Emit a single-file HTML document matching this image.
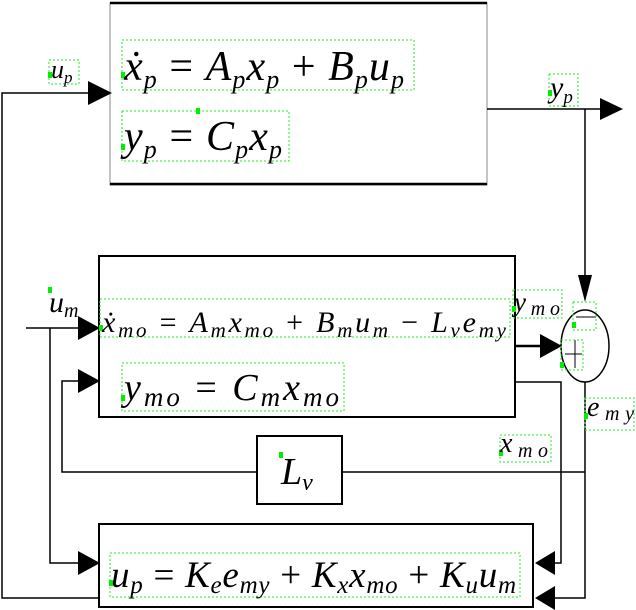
<!DOCTYPE html>
<html><head><meta charset="utf-8"><style>
body{margin:0;background:#fff;}
svg{display:block;}
text{font-family:"Liberation Serif",serif;font-style:italic;fill:#000;}
.g{fill:none;stroke:#2e2;stroke-width:1;stroke-dasharray:2,2;}
.m{fill:#0e0;}
</style></head><body>
<svg width="636" height="610" viewBox="0 0 636 610" xmlns="http://www.w3.org/2000/svg">
<g stroke="#000" fill="none" stroke-width="1.5">
<rect x="110" y="3" width="377" height="182" stroke="#888" stroke-width="1"/>
<line x1="110" y1="3" x2="487" y2="3" stroke-width="2.5"/>
<line x1="110" y1="184" x2="487" y2="184" stroke-width="2.5"/>
<rect x="99" y="256" width="416" height="161" stroke-width="2"/>
<rect x="257" y="436" width="85" height="68" stroke-width="2"/>
<rect x="99" y="524" width="434" height="83" stroke-width="2"/>
<ellipse cx="585" cy="346" rx="24" ry="36"/>
<line x1="565" y1="354" x2="582" y2="354" stroke-width="1"/>
<line x1="575" y1="340" x2="575" y2="368" stroke-width="1"/>
<line x1="576" y1="317" x2="596" y2="317" stroke-width="1"/>
<polyline points="98,598 2,598 2,93 92,93"/>
<polyline points="487,109 600,109"/>
<polyline points="585,109 585,282"/>
<polyline points="26,328 80,328"/>
<polyline points="50,328 50,563 80,563"/>
<polyline points="80,381 62,381 62,472 257,472"/>
<polyline points="342,472 585,472"/>
<polyline points="515,346 545,346" stroke-width="2.5"/>
<polyline points="515,382 561,382 561,563 552,563"/>
<polyline points="585,382 585,598 552,598"/>
</g>
<g fill="#000">
<polygon points="88,81 112,93 88,105"/>
<polygon points="600,98 623,109 600,120"/>
<polygon points="578,275 592,275 585,302"/>
<polygon points="78,316 100,328 78,340"/>
<polygon points="78,369 100,381 78,393"/>
<polygon points="78,551 100,563 78,575"/>
<polygon points="540,334 562,346 540,358"/>
<polygon points="555,551 535,563 555,575"/>
<polygon points="555,586 535,598 555,610"/>
</g>
<g class="g">
<rect x="122" y="40" width="292" height="50"/>
<rect x="122" y="111" width="167" height="50"/>
<rect x="49" y="60" width="30" height="24"/>
<rect x="549" y="74" width="29" height="32"/>
<rect x="100" y="299" width="410" height="38"/>
<rect x="122" y="363" width="222" height="48"/>
<rect x="513" y="290" width="49" height="28"/>
<rect x="573" y="302" width="23" height="28"/>
<rect x="561" y="340" width="22" height="30"/>
<rect x="585" y="398" width="49" height="32"/>
<rect x="500" y="435" width="51" height="27"/>
<rect x="110" y="553" width="410" height="44"/>
</g>
<g class="m">
<rect x="121" y="72" width="4" height="6"/><rect x="121" y="144" width="4" height="6"/>
<rect x="196" y="108" width="4" height="6"/><rect x="48" y="72" width="4" height="6"/>
<rect x="548" y="90" width="4" height="6"/><rect x="99" y="325" width="4" height="6"/>
<rect x="121" y="395" width="4" height="6"/><rect x="512" y="306" width="4" height="6"/>
<rect x="572" y="322" width="4" height="6"/><rect x="560" y="362" width="4" height="6"/>
<rect x="584" y="413" width="4" height="6"/><rect x="499" y="450" width="4" height="6"/>
<rect x="279" y="452" width="4" height="6"/><rect x="109" y="580" width="4" height="6"/>
<rect x="48" y="287" width="4" height="6"/>
</g>
<text x="124" y="80" font-size="42" textLength="280" lengthAdjust="spacing">ẋ<tspan font-size="26" dy="8">p</tspan><tspan dy="-8" font-style="normal"> = </tspan>A<tspan font-size="26" dy="8">p</tspan><tspan dy="-8">x</tspan><tspan font-size="26" dy="8">p</tspan><tspan dy="-8" font-style="normal"> + </tspan>B<tspan font-size="26" dy="8">p</tspan><tspan dy="-8">u</tspan><tspan font-size="26" dy="8">p</tspan></text>
<text x="124" y="150" font-size="42" textLength="158" lengthAdjust="spacing">y<tspan font-size="26" dy="8">p</tspan><tspan dy="-8" font-style="normal"> = </tspan>C<tspan font-size="26" dy="8">p</tspan><tspan dy="-8">x</tspan><tspan font-size="26" dy="8">p</tspan></text>
<text x="51" y="78" font-size="26">u<tspan font-size="17" dy="5">p</tspan></text>
<text x="550" y="97" font-size="30">y<tspan font-size="19" dy="6">p</tspan></text>
<text x="49" y="312" font-size="30">u<tspan font-size="20" dy="5">m</tspan></text>
<text x="102" y="332" font-size="30" textLength="404" lengthAdjust="spacing">ẋ<tspan font-size="21" dy="5">mo</tspan><tspan dy="-5" font-style="normal"> = </tspan>A<tspan font-size="21" dy="5">m</tspan><tspan dy="-5">x</tspan><tspan font-size="21" dy="5">mo</tspan><tspan dy="-5" font-style="normal"> + </tspan>B<tspan font-size="21" dy="5">m</tspan><tspan dy="-5">u</tspan><tspan font-size="21" dy="5">m</tspan><tspan dy="-5" font-style="normal"> − </tspan>L<tspan font-size="21" dy="5">v</tspan><tspan dy="-5">e</tspan><tspan font-size="21" dy="5">my</tspan></text>
<text x="124" y="400" font-size="38" textLength="215" lengthAdjust="spacing">y<tspan font-size="27" dy="6">mo</tspan><tspan dy="-6" font-style="normal"> = </tspan>C<tspan font-size="27" dy="6">m</tspan><tspan dy="-6">x</tspan><tspan font-size="27" dy="6">mo</tspan></text>
<text x="514" y="311" font-size="27" textLength="46" lengthAdjust="spacing">y<tspan font-size="20" dy="4">mo</tspan></text>
<text x="587" y="416" font-size="28" textLength="47" lengthAdjust="spacing">e<tspan font-size="20" dy="4">my</tspan></text>
<text x="500" y="452" font-size="28" textLength="48" lengthAdjust="spacing">x<tspan font-size="20" dy="5">mo</tspan></text>
<text x="281" y="484" font-size="38">L<tspan font-size="24" dy="6">v</tspan></text>
<text x="111" y="587" font-size="37" textLength="405" lengthAdjust="spacing">u<tspan font-size="25" dy="6">p</tspan><tspan dy="-6" font-style="normal"> = </tspan>K<tspan font-size="25" dy="6">e</tspan><tspan dy="-6">e</tspan><tspan font-size="25" dy="6">my</tspan><tspan dy="-6" font-style="normal"> + </tspan>K<tspan font-size="25" dy="6">x</tspan><tspan dy="-6">x</tspan><tspan font-size="25" dy="6">mo</tspan><tspan dy="-6" font-style="normal"> + </tspan>K<tspan font-size="25" dy="6">u</tspan><tspan dy="-6">u</tspan><tspan font-size="25" dy="6">m</tspan></text>
</svg>
</body></html>
